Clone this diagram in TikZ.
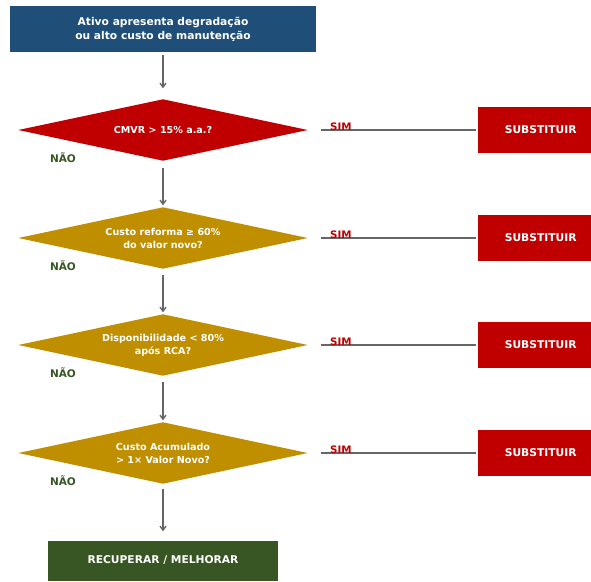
\documentclass[tikz,border=0pt]{standalone}
\usepackage{fontspec}
\setmainfont{DejaVu Sans}
\usetikzlibrary{arrows.meta,backgrounds}
\definecolor{cblue}{HTML}{1F4E79}
\definecolor{cred}{HTML}{C00000}
\definecolor{cgold}{HTML}{BF8F00}
\definecolor{cgreen}{HTML}{375623}
\definecolor{cline}{HTML}{666666}
\tikzset{
  x=1pt,y=-1pt,
  boxnode/.style={rectangle,inner sep=0pt,text=white,font=\bfseries\fontsize{10.7}{14}\selectfont,align=center},
  decnode/.style={rectangle,inner sep=0pt,minimum width=289pt,minimum height=61pt,text=white,font=\bfseries\fontsize{9.6}{13}\selectfont,align=center},
  flowarrow/.style={draw=cline,line width=1.4pt,-{Straight Barb[length=4pt,width=6pt]}},
  simline/.style={draw=cline,line width=1.4pt,shorten <=13pt,shorten >=2pt},
  naolabel/.style={text=cgreen,font=\bfseries\fontsize{10.5}{12}\selectfont,inner sep=0pt},
  simlabel/.style={text=cred,font=\bfseries\fontsize{10.3}{12}\selectfont,inner sep=0pt},
}
\begin{document}
\begin{tikzpicture}
\useasboundingbox (0,0) rectangle (591,581);
\node[boxnode,fill=cblue,minimum width=306pt,minimum height=46pt] (start) at (163,29) {Ativo apresenta degradação\\ou alto custo de manutenção};
\node[decnode] (d1) at (163,130) {CMVR > 15\% a.a.?};
\node[decnode] (d2) at (163,238) {Custo reforma ≥ 60\%\\do valor novo?};
\node[decnode] (d3) at (163,345) {Disponibilidade < 80\%\\após RCA?};
\node[decnode] (d4) at (163,453) {Custo Acumulado\\> 1× Valor Novo?};
\begin{scope}[on background layer]
  \fill[cred] (d1.west) -- (d1.north) -- (d1.east) -- (d1.south) -- cycle;
  \foreach \i in {2,3,4}{
    \fill[cgold] (d\i.west) -- (d\i.north) -- (d\i.east) -- (d\i.south) -- cycle;
  }
\end{scope}
\node[boxnode,fill=cgreen,minimum width=230pt,minimum height=40pt] (end) at (163,560.5) {RECUPERAR / MELHORAR};
\foreach \i/\y in {1/130,2/238,3/345,4/453}{
  \node[boxnode,fill=cred,anchor=west,minimum width=125pt,minimum height=46pt] (s\i) at (478,\y) {SUBSTITUIR};
  \draw[simline] (d\i.east) -- (s\i.west);
  \node[simlabel,anchor=base west] (sim\i) at (330,\y+0.5) {SIM};
  \node[naolabel] (nao\i) at (63,\y+28) {NÃO};
}
\draw[flowarrow,shorten <=3pt,shorten >=11pt] (start.south) -- (d1.north);
\draw[flowarrow,shorten <=7pt,shorten >=2pt] (d1.south) -- (d2.north);
\draw[flowarrow,shorten <=6pt,shorten >=2pt] (d2.south) -- (d3.north);
\draw[flowarrow,shorten <=6pt,shorten >=2pt] (d3.south) -- (d4.north);
\draw[flowarrow,shorten <=5pt,shorten >=9pt] (d4.south) -- (end.north);
\end{tikzpicture}
\end{document}
